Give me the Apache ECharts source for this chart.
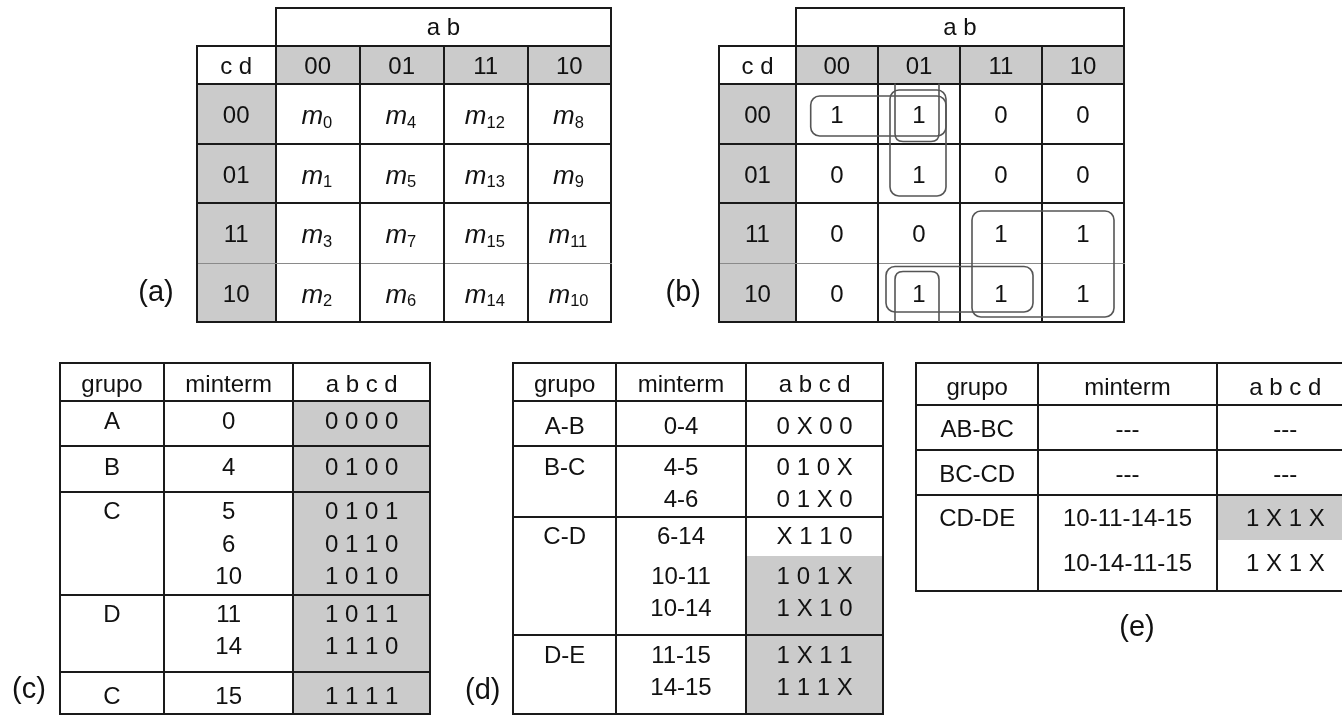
<!DOCTYPE html>
<html><head><meta charset="utf-8">
<script src="https://cdn.jsdelivr.net/npm/echarts@6/dist/echarts.min.js"></script>
<style>html,body{margin:0;padding:0;background:#fff}#c{width:1342px;height:715px}</style>
</head><body><div id="c"></div>
<script>
// ===== DATA =====
const kmapColLabels = ['00','01','11','10'];
const kmapRowLabels = ['00','01','11','10'];
const kmapAxisLabels = ['a b','c d'];
const kmapMinterms = [[0,4,12,8],[1,5,13,9],[3,7,15,11],[2,6,14,10]];
const kmapValues = [[1,1,0,0],[0,1,0,0],[0,0,1,1],[0,1,1,1]];
// [rowFrom,rowTo,colFrom,colTo]
const kmapGroups = [[0,0,0,1],[0,1,1,1],[2,3,2,3],[3,3,1,2]];
// [col, topRow, bottomRow] groups wrapping around top/bottom edge
const kmapWrapGroups = [[1,0,3]];

const tableHeaders = ['grupo','minterm','a b c d'];

const cGroups = ['A','B','C','D','C'];
const cMinterms = [['0'],['4'],['5','6','10'],['11','14'],['15']];
const cBits = [['0 0 0 0'],['0 1 0 0'],['0 1 0 1','0 1 1 0','1 0 1 0'],['1 0 1 1','1 1 1 0'],['1 1 1 1']];
const cShaded = [[1],[1],[1,1,1],[1,1],[1]];

const dGroups = ['A-B','B-C','C-D','D-E'];
const dMinterms = [['0-4'],['4-5','4-6'],['6-14','10-11','10-14'],['11-15','14-15']];
const dBits = [['0 X 0 0'],['0 1 0 X','0 1 X 0'],['X 1 1 0','1 0 1 X','1 X 1 0'],['1 X 1 1','1 1 1 X']];
const dShaded = [[0],[0,0],[0,1,1],[1,1]];

const eGroups = ['AB-BC','BC-CD','CD-DE'];
const eMinterms = [['---'],['---'],['10-11-14-15','10-14-11-15']];
const eBits = [['---'],['---'],['1 X 1 X','1 X 1 X']];
const eShaded = [[0],[0],[1,0]];

const panelLabels = ['(a)','(b)','(c)','(d)','(e)'];

// ===== LAYOUT / STYLE =====
const FONT = "'Liberation Sans', Arial, sans-serif";
const GRAY = '#cbcbcb';
const INK = '#111111';
const LINE = '#1a1a1a';
const TEXT_DY = 2;
const kmapLayout = {
  a: [196.7,275.7,359.7,443.7,527.7,611],
  b: [719.3,795.7,878,960,1042,1124],
  ys: [46,83.5,143.5,203,262.5,322],
  abTop: 7.5
};
const groupInsets = [[15,14,12.5,7.5],[12,14,6.5,7],[12,10,8,5],[8,9,4,10]]; // left,right,top,bottom
const wrapInsets = {left:17, right:21, topGap:2, bottomGap:9};
const tblLayout = {
  c: {xs:[60,164,293.3,430], top:363.3, hdrBottom:401, hdrText:383.4, blockBottoms:[446.3,491.7,595,672.3,713.5], lines:[[420.7],[466],[510,543,575.5],[613,645.3],[695]]},
  d: {xs:[513.3,616,746,883.3], top:363.3, hdrBottom:401, hdrText:383.4, blockBottoms:[446.3,517.3,635,713.5], lines:[[425],[466,498.3],[535.7,575.7,607.7],[654,686]]},
  e: {xs:[916,1038.3,1216.7,1354], top:363, hdrBottom:405, hdrText:386.7, blockBottoms:[450,494.7,591], lines:[[428.7],[473.8],[517.2,562.8]]}
};
const labelPos = [[156,291],[683.3,291],[29,688],[482.7,689],[1137,626]];

// ===== PRIMITIVES =====
const prims = [];
const rect = (x0,y0,x1,y1,fill)=>prims.push({kind:'rect',v:[x0,y0,x1,y1],fill});
const line = (x0,y0,x1,y1,color,w)=>prims.push({kind:'line',v:[x0,y0,x1,y1],color:color||LINE,w:w||2});
const text = (x,y,t,opt)=>prims.push({kind:'text',v:[x,y+TEXT_DY,x,y+TEXT_DY],text:t,opt:opt||{}});
const round = (x0,y0,x1,y1)=>prims.push({kind:'round',v:[x0,y0,x1,y1]});
const openPath = (x0,y0,x1,y1,openTop)=>prims.push({kind:'path',v:[x0,y0,x1,y1],openTop});

function buildKmap(xs, cellText, isMinterm, withGroups) {
  const ys = kmapLayout.ys, abTop = kmapLayout.abTop;
  for (let c=0;c<4;c++) rect(xs[c+1],ys[0],xs[c+2],ys[1],GRAY);
  for (let r=0;r<4;r++) rect(xs[0],ys[r+1],xs[1],ys[r+2],GRAY);
  line(xs[1],abTop,xs[5],abTop);
  line(xs[1],abTop,xs[1],ys[5]);
  line(xs[5],abTop,xs[5],ys[5]);
  for (let i=0;i<6;i++) {
    if (i===4) line(xs[0],ys[i],xs[5],ys[i],'#8a8a8a',1);
    else line(xs[0],ys[i],xs[5],ys[i]);
  }
  line(xs[0],ys[0],xs[0],ys[5]);
  for (let c=2;c<5;c++) line(xs[c],ys[0],xs[c],ys[5]);
  text((xs[1]+xs[5])/2,(abTop+ys[0])/2,kmapAxisLabels[0]);
  text((xs[0]+xs[1])/2,(ys[0]+ys[1])/2+0.5,kmapAxisLabels[1]);
  kmapColLabels.forEach((t,c)=>text((xs[c+1]+xs[c+2])/2,(ys[0]+ys[1])/2+0.5,t));
  kmapRowLabels.forEach((t,r)=>text((xs[0]+xs[1])/2,(ys[r+1]+ys[r+2])/2+1,t));
  for (let r=0;r<4;r++) for (let c=0;c<4;c++) {
    const cx=(xs[c+1]+xs[c+2])/2, cy=(ys[r+1]+ys[r+2])/2;
    if (isMinterm) {
      const sub = String(cellText[r][c]);
      const mW = 20, sW = sub.length*9.2;
      const xj = cx + (mW - sW)/2;
      text(xj, cy+1.5, 'm', {align:'right', style:'italic', size:26});
      text(xj, cy+7.6, sub, {align:'left', size:16.5});
    } else {
      text(cx, cy+1, String(cellText[r][c]));
    }
  }
  if (withGroups) {
    kmapGroups.forEach((g,i)=>{
      const ins = groupInsets[i];
      round(xs[g[2]+1]+ins[0], ys[g[0]+1]+ins[2], xs[g[3]+2]-ins[1], ys[g[1]+2]-ins[3]);
    });
    kmapWrapGroups.forEach(g=>{
      const x0 = xs[g[0]+1]+wrapInsets.left, x1 = xs[g[0]+2]-wrapInsets.right;
      openPath(x0, ys[g[1]+1], x1, ys[g[1]+2]-wrapInsets.topGap, true);
      openPath(x0, ys[g[2]+1]+wrapInsets.bottomGap, x1, ys[g[2]+2], false);
    });
  }
}

function buildTable(L, groups, minterms, bits, shaded) {
  const xs = L.xs;
  let top = L.hdrBottom;
  groups.forEach((g,bi)=>{
    const bottom = L.blockBottoms[bi], ls = L.lines[bi];
    shaded[bi].forEach((s,li)=>{
      if (!s) return;
      const y0 = li===0 ? top : (ls[li-1]+ls[li])/2;
      const y1 = li===ls.length-1 ? bottom : (ls[li]+ls[li+1])/2;
      rect(xs[2],y0,xs[3],y1,GRAY);
    });
    top = bottom;
  });
  const bottomY = L.blockBottoms[L.blockBottoms.length-1];
  [L.top, L.hdrBottom].concat(L.blockBottoms).forEach(y=>line(xs[0],y,xs[3],y));
  xs.forEach(x=>line(x,L.top,x,bottomY));
  tableHeaders.forEach((h,i)=>text((xs[i]+xs[i+1])/2, L.hdrText, h));
  groups.forEach((g,bi)=>{
    const ls = L.lines[bi];
    text((xs[0]+xs[1])/2, ls[0], g);
    minterms[bi].forEach((m,li)=>text((xs[1]+xs[2])/2, ls[li], m));
    bits[bi].forEach((b,li)=>text((xs[2]+xs[3])/2, ls[li], b));
  });
}

buildKmap(kmapLayout.a, kmapMinterms, true, false);
buildKmap(kmapLayout.b, kmapValues, false, true);
buildTable(tblLayout.c, cGroups, cMinterms, cBits, cShaded);
buildTable(tblLayout.d, dGroups, dMinterms, dBits, dShaded);
buildTable(tblLayout.e, eGroups, eMinterms, eBits, eShaded);
panelLabels.forEach((t,i)=>text(labelPos[i][0], labelPos[i][1], t, {size:29}));

// order: fills, lines, outlines, text
const order = {rect:0,line:1,round:2,path:2,text:3};
prims.sort((a,b)=>order[a.kind]-order[b.kind]);

function renderItem(params, api) {
  const p = prims[params.dataIndex];
  const a = api.coord([api.value(0), api.value(1)]);
  const b = api.coord([api.value(2), api.value(3)]);
  switch (p.kind) {
    case 'rect': {
      const x0=Math.round(a[0]), y0=Math.round(a[1]), x1=Math.round(b[0]), y1=Math.round(b[1]);
      return {type:'rect', shape:{x:x0,y:y0,width:x1-x0,height:y1-y0}, style:{fill:p.fill}};
    }
    case 'line': {
      const off = p.w%2===1 ? 0.5 : 0;
      return {type:'line', shape:{x1:Math.round(a[0])+off,y1:Math.round(a[1])+off,x2:Math.round(b[0])+off,y2:Math.round(b[1])+off},
        style:{stroke:p.color,lineWidth:p.w,lineCap:'square'}};
    }
    case 'round':
      return {type:'rect', shape:{x:a[0],y:a[1],width:b[0]-a[0],height:b[1]-a[1],r:9},
        style:{fill:null,stroke:'#555',lineWidth:1.6}};
    case 'path': {
      const r = 8, x0=a[0], x1=b[0], y0=a[1], y1=b[1];
      let d;
      if (p.openTop) d = `M${x0} ${y0} L${x0} ${y1-r} Q${x0} ${y1} ${x0+r} ${y1} L${x1-r} ${y1} Q${x1} ${y1} ${x1} ${y1-r} L${x1} ${y0}`;
      else d = `M${x0} ${y1} L${x0} ${y0+r} Q${x0} ${y0} ${x0+r} ${y0} L${x1-r} ${y0} Q${x1} ${y0} ${x1} ${y0+r} L${x1} ${y1}`;
      return {type:'path', shape:{pathData:d}, style:{fill:null,stroke:'#555',lineWidth:1.6}};
    }
    case 'text':
      return {type:'text', x:a[0], y:a[1], style:{text:p.text, fill:INK, fontFamily:FONT,
        fontSize:p.opt.size||24, fontStyle:p.opt.style||'normal', align:p.opt.align||'center', verticalAlign:'middle'}};
  }
}

const chart = echarts.init(document.getElementById('c'), null, {renderer:'canvas'});
chart.setOption({
  animation:false,
  backgroundColor:'#ffffff',
  grid:{left:0,top:0,width:1342,height:715},
  xAxis:{type:'value',min:0,max:1342,show:false},
  yAxis:{type:'value',min:0,max:715,inverse:true,show:false},
  series:[{type:'custom', renderItem, clip:false, silent:true, data:prims.map(p=>p.v)}]
});
</script></body></html>
